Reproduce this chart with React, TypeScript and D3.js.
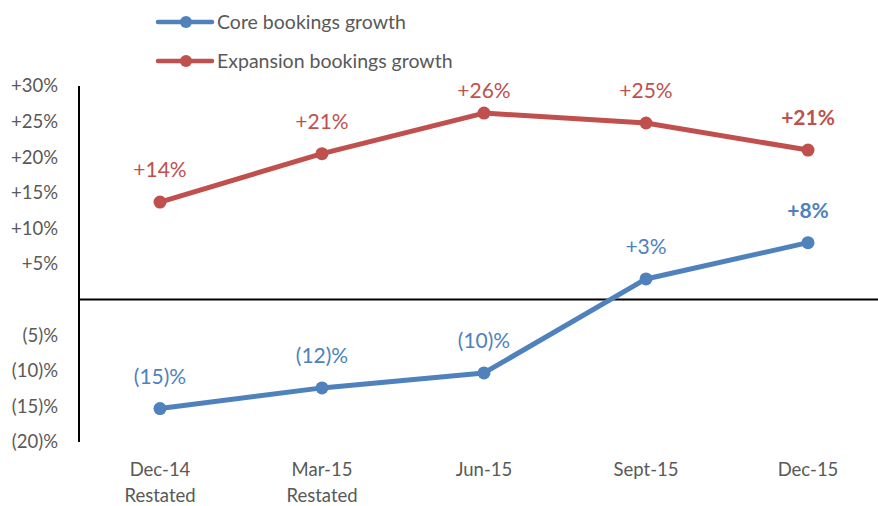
import React from "react";
import { scaleLinear, scalePoint, line } from "d3";

const categories = ["Dec-14|Restated", "Mar-15|Restated", "Jun-15", "Sept-15", "Dec-15"];
const coreGrowth = [-15.3, -12.4, -10.3, 2.9, 8.0];
const expansionGrowth = [13.7, 20.5, 26.2, 24.8, 21.0];
const coreLabels = ["(15)%", "(12)%", "(10)%", "+3%", "+8%"];
const expansionLabels = ["+14%", "+21%", "+26%", "+25%", "+21%"];
const yTicks = [30, 25, 20, 15, 10, 5, -5, -10, -15, -20];
const seriesNames = ["Core bookings growth", "Expansion bookings growth"];

const W = 878, H = 506;
const BLUE = "#4F81BD", RED = "#C0504D", GREY = "#595959";
const FONT = "Lato, 'Open Sans', sans-serif";

function tickText(v: number) {
  return v > 0 ? `+${v}%` : `(${-v})%`;
}

export default function App() {
  const x = scalePoint<string>().domain(categories).range([160, 808]);
  const y = scaleLinear().domain([-20, 30]).range([442, 86]);
  const mkLine = line<number>().x((d, i) => x(categories[i])!).y(d => y(d));

  const series = [
    { name: seriesNames[0], vals: coreGrowth, labels: coreLabels, color: BLUE },
    { name: seriesNames[1], vals: expansionGrowth, labels: expansionLabels, color: RED },
  ];

  return (
    <svg width={W} height={H} style={{ position: "absolute", left: 0, top: 0 }} fontFamily={FONT}>
      <rect width={W} height={H} fill="#fff" />
      {/* legend */}
      {series.map((s, i) => (
        <g key={s.name} transform={`translate(0,${22 + i * 39})`}>
          <line x1={158} x2={212} y1={0} y2={0} stroke={s.color} strokeWidth={4.5} strokeLinecap="round" />
          <circle cx={186} cy={0} r={6} fill={s.color} />
          <text x={217} y={0} dy="0.35em" fontSize={19.5} fill={GREY}>{s.name}</text>
        </g>
      ))}
      {/* y axis */}
      <line x1={79} x2={79} y1={y(30)} y2={y(-20)} stroke="#000" strokeWidth={2} />
      <line x1={79} x2={W} y1={y(0)} y2={y(0)} stroke="#000" strokeWidth={2} />
      {yTicks.map(t => (
        <text key={t} x={58} y={y(t)} dy="0.35em" textAnchor="end" fontSize={18.5} fill={GREY}>{tickText(t)}</text>
      ))}
      {/* x labels */}
      {categories.map(c => (
        <text key={c} x={x(c)} y={470} textAnchor="middle" fontSize={18.5} fill={GREY}>
          {c.split("|").map((p, j) => (
            <tspan key={j} x={x(c)} dy={j === 0 ? "0.35em" : 26}>{p}</tspan>
          ))}
        </text>
      ))}
      {/* series */}
      {series.map(s => (
        <g key={s.name}>
          <path d={mkLine(s.vals) || ""} fill="none" stroke={s.color} strokeWidth={5} strokeLinejoin="round" />
          {s.vals.map((v, i) => (
            <circle key={i} cx={x(categories[i])} cy={y(v)} r={6.5} fill={s.color} />
          ))}
          {s.vals.map((v, i) => (
            <text key={"l" + i} x={x(categories[i])} y={Math.max(y(v) - 32, 91)} dy="0.35em"
              textAnchor="middle" fontSize={21} fill={s.color}
              fontWeight={i === s.vals.length - 1 ? "bold" : "normal"}>{s.labels[i]}</text>
          ))}
        </g>
      ))}
    </svg>
  );
}
